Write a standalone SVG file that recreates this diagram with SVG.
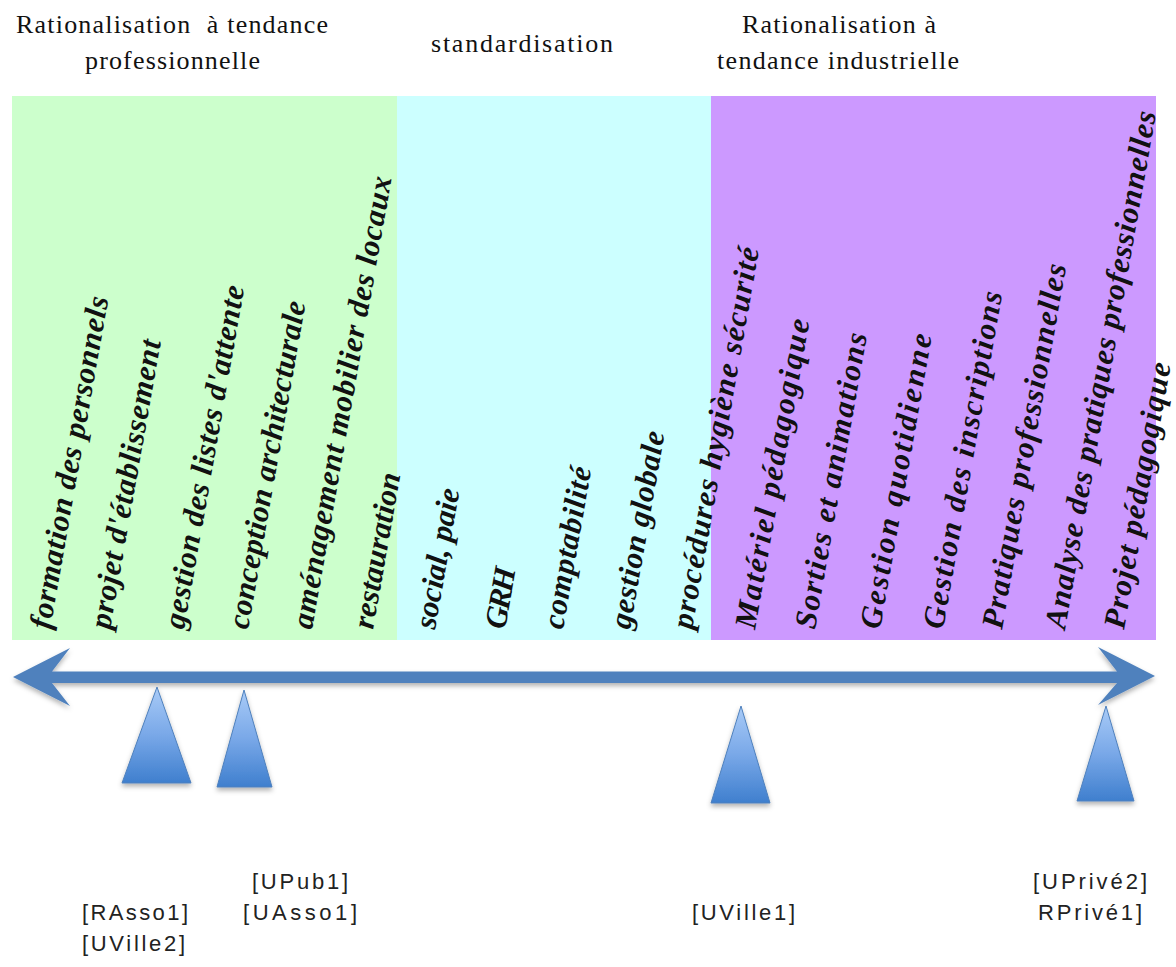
<svg xmlns="http://www.w3.org/2000/svg" width="1176" height="967" viewBox="0 0 1176 967">
  <defs>
    <style>
      .hdr { font-family: "Liberation Serif", "DejaVu Serif", serif; font-size: 26px; fill: #111; }
      .rot { font-family: "Liberation Serif", "DejaVu Serif", serif; font-size: 31px; font-weight: bold; font-style: italic; fill: #111; }
      .lbl { font-family: "Liberation Sans", Arial, sans-serif; font-size: 22px; fill: #222; }
      .tri { fill: url(#triGrad); stroke: #4f81bd; stroke-width: 1; filter: url(#shadow); }
    </style>
    <linearGradient id="triGrad" x1="0" y1="0" x2="0" y2="1">
      <stop offset="0" stop-color="#a9cbf7"/>
      <stop offset="0.5" stop-color="#79a8e8"/>
      <stop offset="1" stop-color="#3f7fce"/>
    </linearGradient>
    <filter id="shadow" x="-20%" y="-20%" width="140%" height="160%">
      <feDropShadow dx="0" dy="3" stdDeviation="2.5" flood-color="#000" flood-opacity="0.3"/>
    </filter>
  </defs>

  <g id="bands">
    <rect id="band-pro" x="12" y="96" width="385" height="544" fill="#ccffcc"/>
    <rect id="band-std" x="397" y="96" width="314" height="544" fill="#ccffff"/>
    <rect id="band-ind" x="711" y="96" width="445" height="544" fill="#cc99ff"/>
  </g>

  <g id="headers">
    <text class="hdr" x="16" y="33" textLength="312" xml:space="preserve">Rationalisation  à tendance</text>
    <text class="hdr" x="85" y="69" textLength="175">professionnelle</text>
    <text class="hdr" x="431" y="52" textLength="182">standardisation</text>
    <text class="hdr" x="742" y="33" textLength="194">Rationalisation à</text>
    <text class="hdr" x="717" y="69" textLength="242">tendance industrielle</text>
  </g>

  <g id="activities">
    <text class="rot" transform="translate(50,630) rotate(-80)" textLength="337">formation des personnels</text>
    <text class="rot" transform="translate(110,630) rotate(-80)" textLength="293">projet d'établissement</text>
    <text class="rot" transform="translate(184,630) rotate(-80)" textLength="348">gestion des listes d'attente</text>
    <text class="rot" transform="translate(248,630) rotate(-80)" textLength="332">conception architecturale</text>
    <text class="rot" transform="translate(312,630) rotate(-80)" textLength="459">aménagement mobilier des locaux</text>
    <text class="rot" transform="translate(373,630) rotate(-80)" textLength="158">restauration</text>
    <text class="rot" transform="translate(435,630) rotate(-80)" textLength="142">social, paie</text>
    <text class="rot" transform="translate(505,630) rotate(-80)" textLength="62">GRH</text>
    <text class="rot" transform="translate(563,630) rotate(-80)" textLength="164">comptabilité</text>
    <text class="rot" transform="translate(630,630) rotate(-80)" textLength="200">gestion globale</text>
    <text class="rot" transform="translate(692,630) rotate(-80)" textLength="387">procédures hygiène sécurité</text>
    <text class="rot" transform="translate(755,630) rotate(-80)" textLength="314">Matériel pédagogique</text>
    <text class="rot" transform="translate(815,630) rotate(-80)" textLength="300">Sorties et animations</text>
    <text class="rot" transform="translate(880,630) rotate(-80)" textLength="299">Gestion quotidienne</text>
    <text class="rot" transform="translate(943,630) rotate(-80)" textLength="342">Gestion des inscriptions</text>
    <text class="rot" transform="translate(1002,630) rotate(-80)" textLength="370">Pratiques professionnelles</text>
    <text class="rot" transform="translate(1065,630) rotate(-80)" textLength="525">Analyse des pratiques professionnelles</text>
    <text class="rot" transform="translate(1124,630) rotate(-80)" textLength="270">Projet pédagogique</text>
  </g>

  <g id="connectors">
    <path id="axis" d="M13,677 L70,648 L52,671.5 L1117,671.5 L1098,647 L1155,676 L1098,705 L1117,683 L52,683 L70,706 Z" fill="#4f81bd" filter="url(#shadow)"/>
  </g>

  <g id="marker-rasso">
    <polygon class="tri" points="157,687 191,783 122,783"/>
  </g>
  <g id="marker-upub">
    <polygon class="tri" points="244,690 272,787 217,787"/>
  </g>
  <g id="marker-uville1">
    <polygon class="tri" points="741,706 770,803 711,803"/>
  </g>
  <g id="marker-uprive">
    <polygon class="tri" points="1106,706 1134,801 1077,801"/>
  </g>

  <g id="labels">
    <text class="lbl" x="252" y="889" textLength="96">[UPub1]</text>
    <text class="lbl" x="82" y="920" textLength="106">[RAsso1]</text>
    <text class="lbl" x="243" y="920" textLength="114">[UAsso1]</text>
    <text class="lbl" x="82" y="951" textLength="103">[UVille2]</text>
    <text class="lbl" x="692" y="920" textLength="103">[UVille1]</text>
    <text class="lbl" x="1033" y="889" textLength="114">[UPrivé2]</text>
    <text class="lbl" x="1038" y="920" textLength="104">RPrivé1]</text>
  </g>
</svg>
